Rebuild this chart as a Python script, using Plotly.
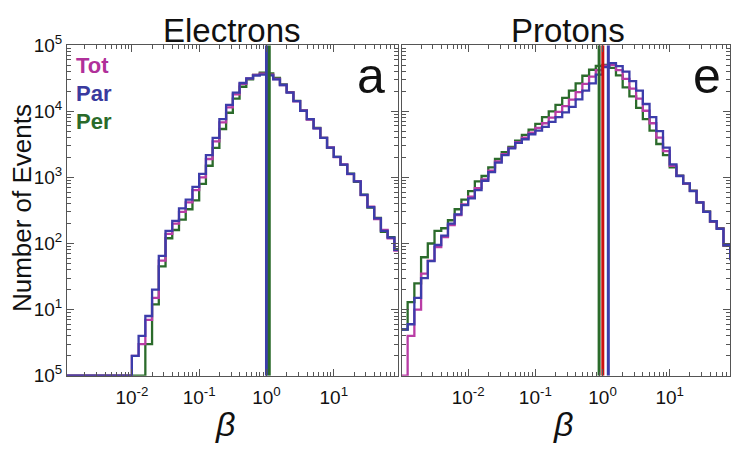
import numpy as np
import plotly.graph_objects as go

# ---- data ----
log_beta_edges = np.round(np.arange(-3.0, 2.0001, 0.1), 1)  # 50 bins of 0.1 dex

e_par = [1, 1, 1, 1, 1, 1, 1, 1, 1, 1,
         2, 4, 8, 20, 65, 155, 220, 340, 460, 720,
         1130, 2180, 3950, 7600, 12500, 19200, 26800, 31500, 34800, 36000,
         35000, 30500, 25000, 19200, 14300, 10200, 7600, 5500, 3950, 2830,
         2040, 1560, 1130, 870, 545, 355, 240, 155, 123, 80]
e_tot = [1, 1, 1, 1, 1, 1, 1, 1, 1, 1,
         2, 3, 7, 15, 55, 140, 200, 300, 420, 640,
         1000, 1900, 3500, 6800, 11500, 18000, 26000, 31500, 35500, 37000,
         35800, 30800, 25000, 19300, 14200, 10300, 7500, 5500, 3950, 2850,
         2030, 1570, 1120, 880, 540, 360, 235, 160, 120, 78]
e_per = [1, 1, 1, 1, 1, 1, 1, 1, 1, 1,
         1, 1, 3, 12, 45, 120, 160, 230, 330, 450,
         800, 1500, 2800, 5400, 9500, 15500, 23500, 30500, 35500, 38500,
         37500, 32000, 25500, 19500, 14400, 10300, 7600, 5600, 3950, 2800,
         2050, 1550, 1140, 860, 550, 350, 245, 150, 125, 82]

p_par = [5, 6, 15, 30, 54, 95, 132, 200, 275, 380,
         480, 640, 890, 1200, 1670, 2180, 2750, 3330, 3780, 4500,
         5100, 5800, 6900, 8150, 9600, 11700, 15200, 20500, 26500, 36000,
         46700, 53500, 48200, 39700, 28600, 20500, 12900, 8150, 5000, 2830,
         1570, 1050, 810, 620, 420, 300, 217, 166, 95, 58]
p_tot = [1, 4, 10, 35, 55, 88, 125, 190, 270, 390,
         510, 690, 930, 1260, 1750, 2250, 2800, 3420, 4000, 4750,
         5600, 6600, 8000, 9800, 12000, 15000, 19500, 26000, 33500, 42000,
         49000, 50500, 42000, 31000, 22000, 15500, 10200, 6600, 4000, 2500,
         1500, 1055, 805, 625, 418, 302, 215, 168, 94, 59]
p_per = [5, 13, 25, 62, 100, 155, 170, 225, 330, 460,
         620, 870, 1050, 1420, 1900, 2400, 2900, 3600, 4400, 5300,
         6450, 8150, 10000, 12500, 16000, 20500, 26500, 34500, 42500, 48500,
         50500, 45400, 35000, 23000, 16800, 11300, 7600, 5100, 3200, 2180,
         1420, 1060, 800, 630, 415, 305, 212, 170, 92, 60]

# mean beta markers (vertical lines)
e_mean_par = 1.00
e_mean_per = 1.10
p_mean_per = 0.89
p_mean_tot = 1.01
p_mean_par = 1.22

x_tick_vals = [0.01, 0.1, 1, 10]
x_tick_text = ["10<sup>-2</sup>", "10<sup>-1</sup>", "10<sup>0</sup>", "10<sup>1</sup>"]
y_tick_vals = [1, 10, 100, 1000, 10000, 100000]
y_tick_text = ["10<sup>5</sup>", "10<sup>1</sup>", "10<sup>2</sup>", "10<sup>3</sup>",
               "10<sup>4</sup>", "10<sup>5</sup>"]

# ---- style ----
W, H = 731, 453
C_TOT = "#b93ca5"
C_PAR = "#3c3caa"
C_PER = "#2b6b2b"
C_RED = "#cc1111"
FONT = "Liberation Sans, Arial, sans-serif"
AX = "#555555"

edges = 10 ** log_beta_edges


def step(vals):
    return list(vals) + [vals[-1]]


fig = go.Figure()
for (xa, ya, series) in [("x", "y", [(e_per, C_PER), (e_tot, C_TOT), (e_par, C_PAR)]),
                         ("x2", "y2", [(p_per, C_PER), (p_tot, C_TOT), (p_par, C_PAR)])]:
    for vals, col in series:
        fig.add_trace(go.Scatter(x=edges, y=step(vals), mode="lines",
                                 line=dict(color=col, width=2.3, shape="hv"),
                                 xaxis=xa, yaxis=ya, showlegend=False, hoverinfo="skip"))

for v, col, xa, ya in [(e_mean_par, C_PAR, "x", "y"), (e_mean_per, C_PER, "x", "y"),
                       (p_mean_per, C_PER, "x2", "y2"), (p_mean_tot, C_RED, "x2", "y2"),
                       (p_mean_par, C_PAR, "x2", "y2")]:
    fig.add_trace(go.Scatter(x=[v, v], y=[1, 1e5], mode="lines",
                             line=dict(color=col, width=3),
                             xaxis=xa, yaxis=ya, showlegend=False, hoverinfo="skip"))

minor_x = [m * 10.0 ** d for d in range(-3, 2) for m in range(2, 10)]
minor_y = [m * 10.0 ** d for d in range(0, 5) for m in range(2, 10)]

xcommon = dict(type="log", showgrid=False, zeroline=False, showline=True, linecolor=AX,
               linewidth=1, mirror="allticks", ticks="inside", ticklen=7, tickcolor=AX,
               tickmode="array", tickvals=x_tick_vals, ticktext=x_tick_text,
               ticklabelstandoff=4,
               tickfont=dict(family=FONT, size=19, color="#111"),
               minor=dict(tickmode="array", tickvals=minor_x, ticks="inside", ticklen=4,
                          tickcolor=AX, showgrid=False))
ycommon = dict(type="log", range=[0, 5], showgrid=False, zeroline=False, showline=True,
               linecolor=AX, linewidth=1, mirror="allticks", ticks="inside", ticklen=7,
               tickcolor=AX, tickmode="array", tickvals=y_tick_vals, ticktext=y_tick_text,
               tickfont=dict(family=FONT, size=19, color="#111"),
               domain=[70 / H, 419 / H],
               minor=dict(tickmode="array", tickvals=minor_y, ticks="inside", ticklen=4,
                          tickcolor=AX, showgrid=False))

fig.update_layout(
    width=W, height=H, margin=dict(l=0, r=0, t=0, b=0),
    paper_bgcolor="white", plot_bgcolor="white", showlegend=False,
    xaxis=dict(xcommon, domain=[67 / W, 398 / W], range=[-2.964, 1.954], anchor="y"),
    xaxis2=dict(xcommon, domain=[402 / W, 730 / W], range=[-2.984, 1.897], anchor="y2"),
    yaxis=dict(ycommon, anchor="x"),
    yaxis2=dict(ycommon, anchor="x2", showticklabels=False),
)


def px_ann(text, x, y, size, color="#111", bold=False, xanchor="center", angle=0):
    if bold:
        text = "<b>" + text + "</b>"
    fig.add_annotation(text=text, x=x / W, y=1 - y / H, xref="paper", yref="paper",
                       showarrow=False, xanchor=xanchor, yanchor="middle", textangle=angle,
                       font=dict(family=FONT, size=size, color=color))


px_ann("Electrons", 232, 19, 33)
px_ann("Protons", 568, 19, 33)
px_ann("a", 371, 66, 50)
px_ann("e", 707, 66, 50)
px_ann("Tot", 74, 55, 22, color="#b0309a", bold=True, xanchor="left")
px_ann("Par", 74, 85, 22, color="#3a3a9e", bold=True, xanchor="left")
px_ann("Per", 74, 115, 22, color="#2a6a2a", bold=True, xanchor="left")
px_ann("Number of Events", 22, 206, 26, angle=-90)
px_ann("<i>β</i>", 225, 434, 34)
px_ann("<i>β</i>", 563, 434, 34)

fig.write_html("out.html")
